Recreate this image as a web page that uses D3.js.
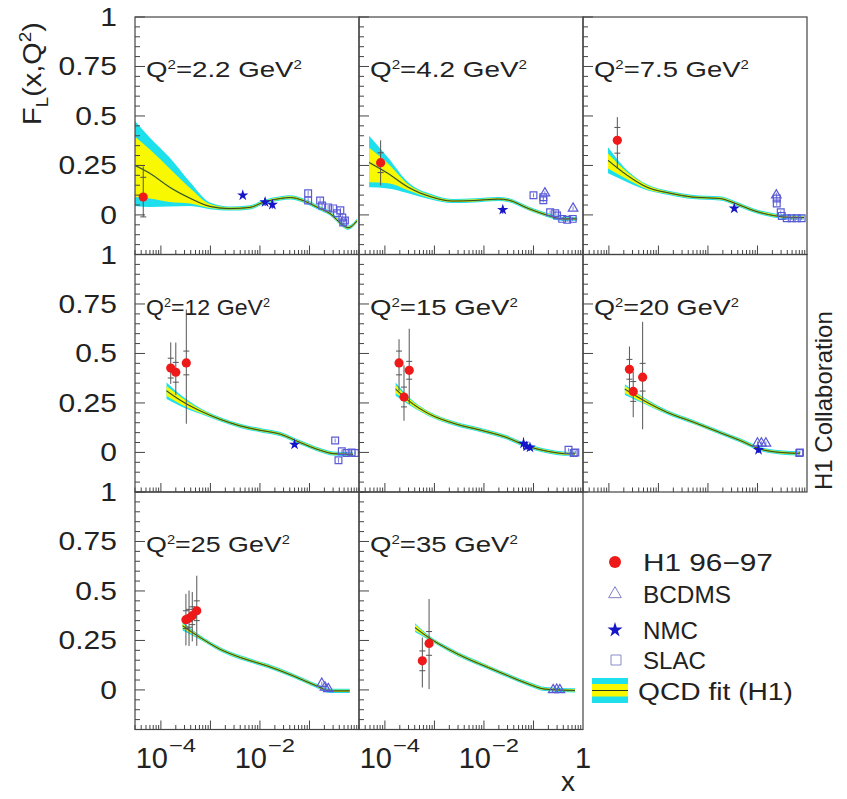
<!DOCTYPE html>
<html><head><meta charset="utf-8">
<script src="https://cdn.jsdelivr.net/npm/d3@7"></script>
<style>
body{margin:0;background:#fff}
svg{display:block}
text{font-family:"Liberation Sans",Arial,Helvetica,sans-serif;fill:#222}
</style>
</head><body>
<svg id="c" width="847" height="799"></svg>
<script>
// ---------------- DATA ----------------
const q2Values = ["2.2","4.2","7.5","12","15","20","25","35"];
const yTickValues = [0, 0.25, 0.5, 0.75, 1];
const yTickLabels = ["0", "0.25", "0.5", "0.75", "1"];
const xTickValues = [1e-4, 1e-2, 1];
const xTickBases = ["10", "10", "1"];
const xTickExps = ["\u22124", "\u22122", ""];
const legendLabels = ["H1 96\u221297", "BCDMS", "NMC", "SLAC", "QCD fit (H1)"];

// QCD fit: [x, central, innerDown, innerUp, outerDown, outerUp]
const fit22 = [
  [3.0e-5, 0.250, 0.160, 0.145, 0.205, 0.225],
  [6.0e-5, 0.210, 0.127, 0.120, 0.170, 0.180],
  [1.5e-4, 0.140, 0.075, 0.095, 0.097, 0.150],
  [3.9e-4, 0.084, 0.026, 0.051, 0.039, 0.081],
  [9.8e-4, 0.043, 0.008, 0.012, 0.014, 0.020],
  [2.5e-3, 0.032, 0.005, 0.006, 0.010, 0.011],
  [6.3e-3, 0.038, 0.005, 0.006, 0.010, 0.011],
  [1.15e-2, 0.063, 0.005, 0.006, 0.010, 0.011],
  [2.6e-2, 0.083, 0.005, 0.006, 0.010, 0.011],
  [4.1e-2, 0.088, 0.005, 0.006, 0.010, 0.011],
  [7.4e-2, 0.073, 0.005, 0.006, 0.010, 0.011],
  [1.4e-1, 0.040, 0.005, 0.006, 0.010, 0.011],
  [2.6e-1, 0.007, 0.005, 0.006, 0.010, 0.011],
  [4.8e-1, -0.053, 0.005, 0.006, 0.010, 0.011],
  [6.0e-1, -0.065, 0.005, 0.006, 0.010, 0.011],
  [9.1e-1, -0.030, 0.005, 0.006, 0.010, 0.011]
];
const fit42 = [
  [4.8e-5, 0.265, 0.100, 0.075, 0.125, 0.135],
  [1.15e-4, 0.210, 0.050, 0.050, 0.076, 0.080],
  [2.95e-4, 0.140, 0.015, 0.015, 0.030, 0.025],
  [8.9e-4, 0.090, 0.007, 0.008, 0.013, 0.014],
  [2.3e-3, 0.070, 0.005, 0.006, 0.010, 0.011],
  [6.6e-3, 0.073, 0.005, 0.006, 0.010, 0.011],
  [1.95e-2, 0.080, 0.005, 0.006, 0.010, 0.011],
  [3.1e-2, 0.075, 0.005, 0.006, 0.010, 0.011],
  [7.8e-2, 0.033, 0.005, 0.006, 0.010, 0.011],
  [2.0e-1, -0.003, 0.005, 0.006, 0.010, 0.011],
  [3.8e-1, -0.020, 0.005, 0.006, 0.010, 0.011],
  [7.6e-1, -0.020, 0.005, 0.006, 0.010, 0.011]
];
const fit75 = [
  [9.6e-5, 0.276, 0.041, 0.034, 0.066, 0.066],
  [2.35e-4, 0.200, 0.020, 0.015, 0.035, 0.025],
  [5.9e-4, 0.140, 0.010, 0.010, 0.015, 0.015],
  [1.7e-3, 0.110, 0.005, 0.006, 0.010, 0.011],
  [5.0e-3, 0.090, 0.005, 0.006, 0.010, 0.011],
  [1.74e-2, 0.083, 0.005, 0.006, 0.010, 0.011],
  [3.2e-2, 0.063, 0.005, 0.006, 0.010, 0.011],
  [8.1e-2, 0.023, 0.005, 0.006, 0.010, 0.011],
  [2.1e-1, -0.003, 0.005, 0.006, 0.010, 0.011],
  [5.2e-1, -0.013, 0.005, 0.006, 0.010, 0.011],
  [8.7e-1, -0.013, 0.005, 0.006, 0.010, 0.011]
];
const fit12 = [
  [1.3e-4, 0.311, 0.026, 0.024, 0.041, 0.042],
  [2.45e-4, 0.264, 0.019, 0.019, 0.029, 0.029],
  [6.2e-4, 0.210, 0.010, 0.010, 0.015, 0.015],
  [1.55e-3, 0.168, 0.005, 0.006, 0.010, 0.011],
  [4.0e-3, 0.134, 0.005, 0.006, 0.010, 0.011],
  [1.0e-2, 0.112, 0.005, 0.006, 0.010, 0.011],
  [2.6e-2, 0.092, 0.005, 0.006, 0.010, 0.011],
  [6.5e-2, 0.050, 0.005, 0.006, 0.010, 0.011],
  [1.64e-1, 0.011, 0.005, 0.006, 0.010, 0.011],
  [3.0e-1, -0.006, 0.005, 0.006, 0.010, 0.011],
  [7.6e-1, -0.010, 0.005, 0.006, 0.010, 0.011]
];
const fit15 = [
  [1.65e-4, 0.320, 0.020, 0.020, 0.034, 0.033],
  [2.95e-4, 0.263, 0.013, 0.013, 0.020, 0.020],
  [7.6e-4, 0.196, 0.008, 0.008, 0.012, 0.012],
  [2.6e-3, 0.145, 0.005, 0.006, 0.010, 0.011],
  [9.1e-3, 0.111, 0.005, 0.006, 0.010, 0.011],
  [2.7e-2, 0.078, 0.005, 0.006, 0.010, 0.011],
  [7.9e-2, 0.030, 0.005, 0.006, 0.010, 0.011],
  [2.0e-1, 0.005, 0.005, 0.006, 0.010, 0.011],
  [5.1e-1, -0.007, 0.005, 0.006, 0.010, 0.011],
  [6.9e-1, -0.007, 0.005, 0.006, 0.010, 0.011]
];
const fit20 = [
  [2.1e-4, 0.320, 0.020, 0.015, 0.030, 0.025],
  [5.8e-4, 0.254, 0.010, 0.010, 0.015, 0.015],
  [1.48e-3, 0.203, 0.005, 0.006, 0.010, 0.011],
  [5.1e-3, 0.153, 0.005, 0.006, 0.010, 0.011],
  [1.76e-2, 0.100, 0.005, 0.006, 0.010, 0.011],
  [4.5e-2, 0.060, 0.005, 0.006, 0.010, 0.011],
  [1.13e-1, 0.017, 0.005, 0.006, 0.010, 0.011],
  [2.86e-1, 0.000, 0.005, 0.006, 0.010, 0.011],
  [7.2e-1, -0.005, 0.005, 0.006, 0.010, 0.011]
];
const fit25 = [
  [2.75e-4, 0.324, 0.014, 0.012, 0.024, 0.019],
  [6.2e-4, 0.265, 0.006, 0.006, 0.011, 0.011],
  [1.55e-3, 0.206, 0.005, 0.006, 0.010, 0.011],
  [4.0e-3, 0.164, 0.005, 0.006, 0.010, 0.011],
  [1.38e-2, 0.122, 0.005, 0.006, 0.010, 0.011],
  [4.7e-2, 0.071, 0.005, 0.006, 0.010, 0.011],
  [1.4e-1, 0.020, 0.005, 0.006, 0.010, 0.011],
  [2.6e-1, -0.005, 0.005, 0.006, 0.010, 0.011],
  [6.5e-1, -0.005, 0.005, 0.006, 0.010, 0.011]
];
const fit35 = [
  [4.06e-4, 0.315, 0.015, 0.015, 0.022, 0.022],
  [7.6e-4, 0.265, 0.006, 0.006, 0.011, 0.011],
  [1.9e-3, 0.206, 0.005, 0.006, 0.010, 0.011],
  [4.8e-3, 0.156, 0.005, 0.006, 0.010, 0.011],
  [1.23e-2, 0.113, 0.005, 0.006, 0.010, 0.011],
  [3.1e-2, 0.071, 0.005, 0.006, 0.010, 0.011],
  [7.9e-2, 0.030, 0.005, 0.006, 0.010, 0.011],
  [1.7e-1, 0.004, 0.005, 0.006, 0.010, 0.011],
  [6.9e-1, -0.003, 0.005, 0.006, 0.010, 0.011]
];

// H1 96-97: [x, FL, stat, totalUp, totalDown]
const h1_22 = [[4.4e-5, 0.090, 0.100, 0.155, 0.100]];
const h1_42 = [[8.2e-5, 0.264, 0.050, 0.113, 0.115]];
const h1_75 = [[1.48e-4, 0.377, 0.065, 0.117, 0.142]];
const h1_12 = [[1.58e-4, 0.426, 0.050, 0.130, 0.080], [2.0e-4, 0.405, 0.050, 0.150, 0.115], [3.26e-4, 0.452, 0.060, 0.270, 0.307]];
const h1_15 = [[1.93e-4, 0.452, 0.060, 0.120, 0.140], [2.43e-4, 0.280, 0.050, 0.160, 0.120], [3.1e-4, 0.415, 0.045, 0.210, 0.170]];
const h1_20 = [[2.6e-4, 0.420, 0.050, 0.115, 0.120], [3.1e-4, 0.308, 0.050, 0.100, 0.130], [4.8e-4, 0.380, 0.070, 0.280, 0.263]];
const h1_25 = [[3.2e-4, 0.355, 0.045, 0.130, 0.130], [3.7e-4, 0.362, 0.045, 0.140, 0.140], [4.3e-4, 0.375, 0.045, 0.120, 0.130], [5.3e-4, 0.400, 0.050, 0.177, 0.177]];
const h1_35 = [[5.7e-4, 0.147, 0.050, 0.118, 0.135], [7.8e-4, 0.235, 0.060, 0.224, 0.231]];

// NMC: [x, FL, err]
const nmc_22 = [[4.5e-3, 0.099, 0.008], [1.27e-2, 0.065, 0.020], [1.78e-2, 0.052, 0.020]];
const nmc_42 = [[2.4e-2, 0.026, 0.020]];
const nmc_75 = [[3.4e-2, 0.033, 0.012]];
const nmc_12 = [[5.0e-2, 0.040, 0.010]];
const nmc_15 = [[6.3e-2, 0.045, 0.030], [7.3e-2, 0.030, 0.015], [8.5e-2, 0.025, 0.012]];
const nmc_20 = [[1.05e-1, 0.013, 0.015]];
const nmc_25 = [];
const nmc_35 = [];

// SLAC: [x, FL, err]
const slac_22 = [[0.094, 0.109, 0.012], [0.094, 0.073, 0.012], [0.164, 0.073, 0.012], [0.18, 0.048, 0.012], [0.238, 0.038, 0.012], [0.30, 0.033, 0.012], [0.36, 0.008, 0.012], [0.42, 0.023, 0.012], [0.46, -0.013, 0.012], [0.52, -0.028, 0.012], [0.48, -0.038, 0.012]];
const slac_42 = [[0.10, 0.099, 0.010], [0.158, 0.089, 0.010], [0.158, 0.074, 0.010], [0.217, 0.013, 0.010], [0.275, 0.008, 0.010], [0.30, -0.003, 0.010], [0.38, -0.020, 0.010], [0.48, -0.025, 0.010], [0.62, -0.020, 0.010]];
const slac_75 = [[0.245, 0.083, 0.015], [0.245, 0.058, 0.012], [0.295, 0.013, 0.010], [0.31, -0.005, 0.010], [0.39, -0.017, 0.008], [0.49, -0.017, 0.008], [0.62, -0.017, 0.008], [0.78, -0.017, 0.008]];
const slac_12 = [[0.33, 0.060, 0.010], [0.385, -0.040, 0.012], [0.45, 0.006, 0.008], [0.56, -0.003, 0.008], [0.71, 0.000, 0.008], [0.83, -0.003, 0.008]];
const slac_15 = [[0.51, 0.013, 0.008], [0.65, -0.003, 0.008], [0.70, 0.000, 0.008]];
const slac_20 = [[0.70, -0.003, 0.006], [0.72, 0.000, 0.006]];
const slac_25 = [];
const slac_35 = [];

// BCDMS: [x, FL, err]
const bcdms_22 = [];
const bcdms_42 = [[0.17, 0.110, 0.010], [0.63, 0.033, 0.010]];
const bcdms_75 = [[0.24, 0.100, 0.012]];
const bcdms_12 = [];
const bcdms_15 = [];
const bcdms_20 = [[0.10, 0.046, 0.010], [0.12, 0.046, 0.010], [0.148, 0.046, 0.010]];
const bcdms_25 = [[0.177, 0.032, 0.010], [0.206, 0.013, 0.010], [0.24, 0.005, 0.010]];
const bcdms_35 = [[0.25, 0.000, 0.006], [0.295, 0.002, 0.006], [0.34, 0.000, 0.006]];

const fits = [fit22, fit42, fit75, fit12, fit15, fit20, fit25, fit35];
const h1Sets = [h1_22, h1_42, h1_75, h1_12, h1_15, h1_20, h1_25, h1_35];
const nmcSets = [nmc_22, nmc_42, nmc_75, nmc_12, nmc_15, nmc_20, nmc_25, nmc_35];
const slacSets = [slac_22, slac_42, slac_75, slac_12, slac_15, slac_20, slac_25, slac_35];
const bcdmsSets = [bcdms_22, bcdms_42, bcdms_75, bcdms_12, bcdms_15, bcdms_20, bcdms_25, bcdms_35];

// ---------------- LAYOUT ----------------
const left0 = 135, panelW = 224, top0 = 17, panelH = 237.5;
const labelTargetW = [156, 157, 155, 124, 148, 145, 144, 148];
const C = {
  cyan: "#1ee0ec", yellow: "#f8f800", line: "#2c3a1c", lineHalo: "#7db23a",
  frame: "#444", red: "#ee1a1a", nmc: "#1616c8", open: "#5a5ad6", err: "#555"
};

const svg = d3.select("#c");
const x = d3.scaleLog().domain([3e-5, 1]).range([0, panelW]);
const y = d3.scaleLinear().domain([-0.2, 1]).range([panelH, 0]);

function fitWidth(sel, target, tx, ty, extra) {
  const w = sel.node().getComputedTextLength();
  sel.attr("transform", `translate(${tx},${ty})${extra || ""} scale(${target / w},1)`);
}

const defs = svg.append("defs");

q2Values.forEach((q, i) => {
  const col = i % 3, row = Math.floor(i / 3);
  const ox = left0 + col * panelW, oy = top0 + row * panelH;
  const g = svg.append("g").attr("transform", `translate(${ox},${oy})`);
  defs.append("clipPath").attr("id", "clip" + i)
    .append("rect").attr("width", panelW).attr("height", panelH);
  const pg = g.append("g").attr("clip-path", `url(#clip${i})`);

  // fit bands
  const fit = fits[i];
  const areaOut = d3.area().curve(d3.curveMonotoneX)
    .x(d => x(d[0])).y0(d => y(d[1] - d[4])).y1(d => y(d[1] + d[5]));
  const areaIn = d3.area().curve(d3.curveMonotoneX)
    .x(d => x(d[0])).y0(d => y(d[1] - d[2])).y1(d => y(d[1] + d[3]));
  const line = d3.line().curve(d3.curveMonotoneX).x(d => x(d[0])).y(d => y(d[1]));
  pg.append("path").attr("d", areaOut(fit)).attr("fill", C.cyan);
  pg.append("path").attr("d", areaIn(fit)).attr("fill", C.yellow);
  pg.append("path").attr("d", line(fit)).attr("fill", "none").attr("stroke", C.lineHalo)
    .attr("stroke-width", 1.6).attr("stroke-opacity", 0.8);
  pg.append("path").attr("d", line(fit)).attr("fill", "none").attr("stroke", C.line)
    .attr("stroke-width", 0.9);

  // SLAC (open squares)
  slacSets[i].forEach(d => {
    pg.append("line").attr("x1", x(d[0])).attr("x2", x(d[0]))
      .attr("y1", y(d[1] - d[2])).attr("y2", y(d[1] + d[2]))
      .attr("stroke", C.open).attr("stroke-width", 0.8);
    pg.append("path").attr("d", d3.symbol(d3.symbolSquare).size(46)())
      .attr("transform", `translate(${x(d[0])},${y(d[1])})`)
      .attr("fill", "none").attr("stroke", C.open).attr("stroke-width", 1.2);
  });
  // BCDMS (open triangles)
  bcdmsSets[i].forEach(d => {
    pg.append("line").attr("x1", x(d[0])).attr("x2", x(d[0]))
      .attr("y1", y(d[1] - d[2])).attr("y2", y(d[1] + d[2]))
      .attr("stroke", C.open).attr("stroke-width", 0.8);
    pg.append("path").attr("d", d3.symbol(d3.symbolTriangle).size(40)())
      .attr("transform", `translate(${x(d[0])},${y(d[1])})`)
      .attr("fill", "none").attr("stroke", C.open).attr("stroke-width", 1.2);
  });
  // NMC (stars)
  nmcSets[i].forEach(d => {
    pg.append("line").attr("x1", x(d[0])).attr("x2", x(d[0]))
      .attr("y1", y(d[1] - d[2])).attr("y2", y(d[1] + d[2]))
      .attr("stroke", C.nmc).attr("stroke-width", 1);
    pg.append("path").attr("d", d3.symbol(d3.symbolStar).size(40)())
      .attr("transform", `translate(${x(d[0])},${y(d[1])})`)
      .attr("fill", C.nmc);
  });
  // H1 points
  h1Sets[i].forEach(d => {
    const px = x(d[0]);
    pg.append("line").attr("x1", px).attr("x2", px)
      .attr("y1", y(d[1] - d[4])).attr("y2", y(d[1] + d[3]))
      .attr("stroke", C.err).attr("stroke-width", 1);
    [d[1] - d[2], d[1] + d[2]].forEach(v => {
      pg.append("line").attr("x1", px - 3).attr("x2", px + 3)
        .attr("y1", y(v)).attr("y2", y(v)).attr("stroke", C.err).attr("stroke-width", 1);
    });
    pg.append("circle").attr("cx", px).attr("cy", y(d[1])).attr("r", 4.6).attr("fill", C.red);
  });

  // frame
  g.append("rect").attr("width", panelW).attr("height", panelH)
    .attr("fill", "none").attr("stroke", C.frame).attr("stroke-width", 1.2);
  // left ticks
  d3.range(-0.2, 1.0001, 0.05).forEach(v => {
    const major = Math.abs(v / 0.25 - Math.round(v / 0.25)) < 1e-6;
    g.append("line").attr("x1", 0).attr("x2", major ? 10 : 5)
      .attr("y1", y(v)).attr("y2", y(v)).attr("stroke", C.frame).attr("stroke-width", 1);
  });
  // bottom ticks
  [1e-5, 1e-4, 1e-3, 1e-2, 1e-1].forEach(dec => {
    d3.range(1, 10).forEach(k => {
      const v = k * dec;
      if (v < 3e-5 - 1e-12 || v > 1) return;
      g.append("line").attr("x1", x(v)).attr("x2", x(v))
        .attr("y1", panelH).attr("y2", panelH - (k === 1 ? 9 : 4.5))
        .attr("stroke", C.frame).attr("stroke-width", 1);
    });
  });

  // Q2 label
  const t = g.append("text").attr("font-size", 22);
  t.append("tspan").text("Q");
  t.append("tspan").attr("font-size", 12).attr("dy", -8).text("2");
  t.append("tspan").attr("dy", 8).text("=" + q + " GeV");
  t.append("tspan").attr("font-size", 12).attr("dy", -8).text("2");
  fitWidth(t, labelTargetW[i], 11, 60);

  // y tick labels
  if (col === 0) {
    yTickValues.forEach((v, k) => {
      svg.append("text").attr("font-size", 25).attr("text-anchor", "end")
        .attr("transform", `translate(${117},${oy + y(v) + 9}) scale(1.2,1)`)
        .text(yTickLabels[k]);
    });
  }
  // x tick labels
  if (row === 2) {
    xTickValues.forEach((v, k) => {
      if (col === 0 && v === 1) return;
      const tx = ox + x(v), by = oy + panelH + 38;
      if (xTickExps[k] === "") {
        svg.append("text").attr("font-size", 29).attr("text-anchor", "middle")
          .attr("x", tx).attr("y", by).text(xTickBases[k]);
      } else {
        svg.append("text").attr("font-size", 29).attr("text-anchor", "end")
          .attr("x", tx + 7).attr("y", by).text(xTickBases[k]);
        svg.append("text").attr("font-size", 19)
          .attr("transform", `translate(${tx + 8},${by - 16}) scale(1.25,1)`)
          .text(xTickExps[k]);
      }
    });
  }
});

// axis titles
const yt = svg.append("text").attr("font-size", 26);
yt.append("tspan").text("F");
yt.append("tspan").attr("font-size", 17).attr("dy", 7).text("L");
yt.append("tspan").attr("dy", -7).text("(x,Q");
yt.append("tspan").attr("font-size", 17).attr("dy", -10).text("2");
yt.append("tspan").attr("dy", 10).text(")");
fitWidth(yt, 103, 41, 125, " rotate(-90)");

svg.append("text").attr("font-size", 28).attr("text-anchor", "end")
  .attr("x", 575).attr("y", 791).text("x");

svg.append("text").attr("font-size", 24)
  .attr("transform", "translate(832,490) rotate(-90)").text("H1 Collaboration");

// legend
const legY = [562, 594, 630, 660, 691];
const legTextW = [130, 88, 55, 63, 155];
const legG = svg.append("g");
legG.append("circle").attr("cx", 615).attr("cy", legY[0]).attr("r", 6).attr("fill", C.red);
legG.append("path").attr("d", d3.symbol(d3.symbolTriangle).size(70)())
  .attr("transform", `translate(615,${legY[1]})`).attr("fill", "none")
  .attr("stroke", "#8080c8").attr("stroke-width", 1);
legG.append("path").attr("d", d3.symbol(d3.symbolStar).size(70)())
  .attr("transform", `translate(615,${legY[2]})`).attr("fill", C.nmc);
legG.append("path").attr("d", d3.symbol(d3.symbolSquare).size(100)())
  .attr("transform", `translate(616,${legY[3]})`).attr("fill", "none")
  .attr("stroke", "#8a8ac8").attr("stroke-width", 1);
legG.append("rect").attr("x", 592).attr("y", 678).attr("width", 36).attr("height", 25).attr("fill", C.cyan);
legG.append("rect").attr("x", 592).attr("y", 684).attr("width", 36).attr("height", 12.5).attr("fill", C.yellow);
legG.append("line").attr("x1", 592).attr("x2", 628).attr("y1", 690.5).attr("y2", 690.5)
  .attr("stroke", C.line).attr("stroke-width", 1);
legendLabels.forEach((s, k) => {
  const tt = legG.append("text").attr("font-size", 24).text(s);
  fitWidth(tt, legTextW[k], k === 4 ? 638 : 643, legY[k] + 9);
});
</script>
</body></html>
